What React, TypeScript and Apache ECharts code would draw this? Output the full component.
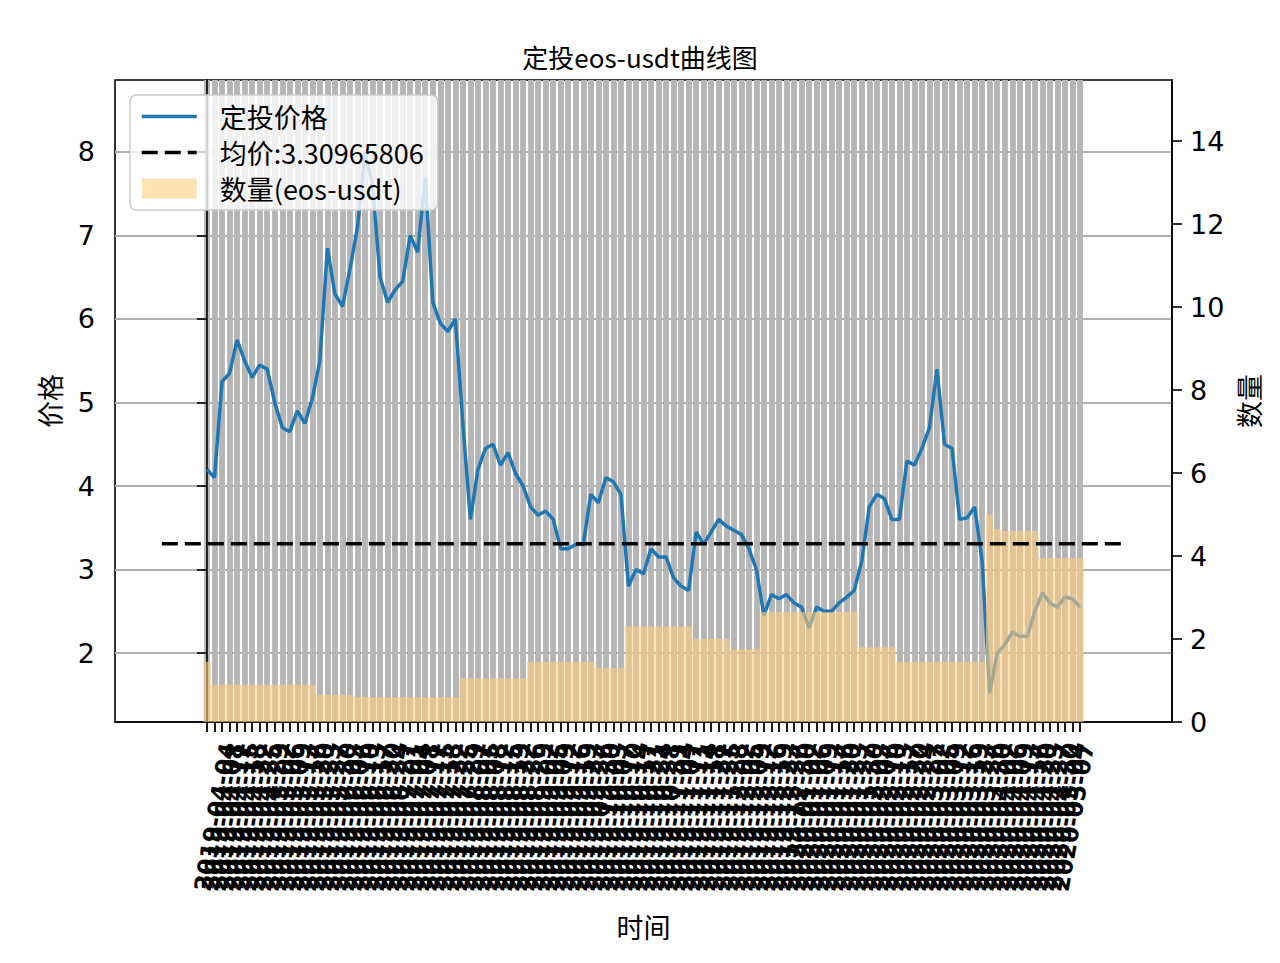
import React, { useEffect, useRef } from "react";
import * as echarts from "echarts";

const DATES = [
  "2019-04-01","2019-04-04","2019-04-08","2019-04-11","2019-04-15","2019-04-18","2019-04-22","2019-04-25","2019-04-29",
  "2019-05-02","2019-05-06","2019-05-09","2019-05-13","2019-05-16","2019-05-20","2019-05-23","2019-05-27","2019-05-30",
  "2019-06-03","2019-06-06","2019-06-10","2019-06-13","2019-06-17","2019-06-20","2019-06-24","2019-06-27",
  "2019-07-01","2019-07-04","2019-07-08","2019-07-11","2019-07-15","2019-07-18","2019-07-22","2019-07-25","2019-07-29",
  "2019-08-01","2019-08-05","2019-08-08","2019-08-12","2019-08-15","2019-08-19","2019-08-22","2019-08-26","2019-08-29",
  "2019-09-02","2019-09-05","2019-09-09","2019-09-12","2019-09-16","2019-09-19","2019-09-23","2019-09-26","2019-09-30",
  "2019-10-03","2019-10-07","2019-10-10","2019-10-14","2019-10-17","2019-10-21","2019-10-24","2019-10-28","2019-10-31",
  "2019-11-04","2019-11-07","2019-11-11","2019-11-14","2019-11-18","2019-11-21","2019-11-25","2019-11-28",
  "2019-12-02","2019-12-05","2019-12-09","2019-12-12","2019-12-16","2019-12-19","2019-12-23","2019-12-26","2019-12-30",
  "2020-01-02","2020-01-06","2020-01-09","2020-01-13","2020-01-16","2020-01-20","2020-01-23","2020-01-27","2020-01-30",
  "2020-02-03","2020-02-06","2020-02-10","2020-02-13","2020-02-17","2020-02-20","2020-02-24","2020-02-27",
  "2020-03-02","2020-03-05","2020-03-09","2020-03-12","2020-03-16","2020-03-19","2020-03-23","2020-03-26","2020-03-30",
  "2020-04-02","2020-04-06","2020-04-09","2020-04-13","2020-04-16","2020-04-20","2020-04-23","2020-04-27","2020-04-30",
  "2020-05-04","2020-05-07","2020-05-11"
];

const PRICE = [
  4.2, 4.1, 5.25, 5.35, 5.75, 5.5, 5.3, 5.45, 5.4, 5.0,
  4.7, 4.65, 4.9, 4.75, 5.05, 5.5, 6.85, 6.3, 6.15, 6.6,
  7.1, 8.0, 7.6, 6.5, 6.2, 6.35, 6.45, 7.0, 6.8, 7.7,
  6.2, 5.95, 5.85, 6.0, 4.75, 3.6, 4.2, 4.45, 4.5, 4.25,
  4.4, 4.15, 4.0, 3.75, 3.65, 3.7, 3.6, 3.25, 3.25, 3.3,
  3.3, 3.9, 3.8, 4.1, 4.05, 3.9, 2.8, 3.0, 2.95, 3.25,
  3.15, 3.15, 2.9, 2.8, 2.75, 3.45, 3.3, 3.45, 3.6, 3.52,
  3.47, 3.42, 3.25, 3.0, 2.45, 2.7, 2.65, 2.7, 2.6, 2.55,
  2.3, 2.55, 2.5, 2.5, 2.6, 2.67, 2.75, 3.1, 3.75, 3.9,
  3.85, 3.6, 3.6, 4.3, 4.25, 4.45, 4.7, 5.4, 4.5, 4.45,
  3.6, 3.62, 3.75, 3.1, 1.52, 2.0, 2.1, 2.25, 2.2, 2.2,
  2.5, 2.72, 2.6, 2.55, 2.67, 2.65, 2.55
];

const QTY = [
  1.45,
  0.9, 0.9, 0.9, 0.9, 0.9, 0.9, 0.9, 0.9, 0.9, 0.9, 0.9, 0.9, 0.9, 0.9,
  0.65, 0.65, 0.65, 0.65, 0.65,
  0.6, 0.6, 0.6, 0.6, 0.6, 0.6, 0.6, 0.6, 0.6, 0.6, 0.6, 0.6, 0.6, 0.6,
  1.05, 1.05, 1.05, 1.05, 1.05, 1.05, 1.05, 1.05, 1.05,
  1.45, 1.45, 1.45, 1.45, 1.45, 1.45, 1.45, 1.45, 1.45,
  1.3, 1.3, 1.3, 1.3,
  2.3, 2.3, 2.3, 2.3, 2.3, 2.3, 2.3, 2.3, 2.3,
  2.0, 2.0, 2.0, 2.0, 2.0,
  1.75, 1.75, 1.75, 1.75,
  2.65, 2.65, 2.65, 2.65, 2.65, 2.65, 2.65, 2.65, 2.65, 2.65, 2.65, 2.65, 2.65,
  1.8, 1.8, 1.8, 1.8, 1.8,
  1.45, 1.45, 1.45, 1.45, 1.45, 1.45, 1.45, 1.45, 1.45, 1.45, 1.45, 1.45,
  5.0, 4.65,
  4.6, 4.6, 4.6, 4.6, 4.6,
  3.95, 3.95, 3.95, 3.95, 3.95, 3.95
];

const MEAN_PRICE = 3.30965806;
const MEAN_X = [-6, DATES.length - 1 + 6];
const LEFT_TICKS = [2, 3, 4, 5, 6, 7, 8];
const RIGHT_TICKS = [0, 2, 4, 6, 8, 10, 12, 14];

const CJK = "Noto Sans CJK SC";
const NUM = "DejaVu Sans";

export default function App() {
  const ref = useRef<HTMLDivElement>(null);
  useEffect(() => {
    if (!ref.current) return;
    const chart = echarts.init(ref.current, null, { renderer: "svg" });
    const idx = DATES.map((_, i) => i);
    const pad = 12.224;
    const xMin = -pad;
    const xMax = DATES.length - 1 + pad;
    const option: any = {
      animation: false,
      backgroundColor: "#ffffff",
      title: {
        text: "定投eos-usdt曲线图",
        left: "center",
        top: 38,
        textStyle: { fontSize: 26, fontWeight: "normal", fontFamily: CJK, color: "#000" },
      },
      legend: {
        orient: "vertical",
        left: 130,
        top: 95,
        itemWidth: 55,
        itemHeight: 20,
        itemGap: 9,
        padding: [8, 14, 8, 10],
        backgroundColor: "rgba(255,255,255,0.8)",
        borderColor: "#cccccc",
        borderWidth: 1.5,
        borderRadius: 6,
        z: 10,
        textStyle: { fontSize: 27, fontFamily: CJK, color: "#000", padding: [0, 0, 0, 18] },
        data: [
          { name: "定投价格", itemStyle: { opacity: 0 }, lineStyle: { width: 3.5 } },
          { name: "均价:3.30965806", itemStyle: { opacity: 0 }, lineStyle: { width: 3.5 } },
          { name: "数量(eos-usdt)", icon: "rect" },
        ],
      },
      grid: [
        { left: 115, right: 108, top: 80, bottom: 241, show: true, borderColor: "#000", borderWidth: 1.6, backgroundColor: "transparent" },
        { left: 129, right: 94, top: 80, bottom: 241 },
      ],
      xAxis: [
        {
          type: "value",
          gridIndex: 0,
          min: xMin,
          max: xMax,
          name: "时间",
          nameLocation: "middle",
          nameGap: 191,
          nameTextStyle: { fontSize: 27, fontFamily: CJK, color: "#000" },
          axisLine: { show: true, lineStyle: { color: "#000", width: 1.6 } },
          axisTick: { show: true, customValues: idx, length: 10, lineStyle: { color: "#000", width: 1.8 } },
          axisLabel: { show: false, customValues: idx },
          splitLine: { show: true, lineStyle: { color: "#b5b5b5", width: 5.8 } },
        },
        {
          type: "value",
          gridIndex: 1,
          min: xMin,
          max: xMax,
          axisLine: { show: false },
          axisTick: { show: false, customValues: idx },
          splitLine: { show: false },
          axisLabel: {
            show: true,
            customValues: idx,
            rotate: 80,
            margin: 21,
            fontSize: 23.5,
            fontWeight: "bold",
            fontFamily: NUM,
            color: "#000",
            formatter: (v: number) => DATES[Math.round(v)] ?? "",
          },
        },
      ],
      yAxis: [
        {
          type: "value",
          gridIndex: 0,
          position: "left",
          min: 1.174,
          max: 8.862,
          name: "价格",
          nameLocation: "middle",
          nameGap: 52,
          nameTextStyle: { fontSize: 27, fontFamily: CJK, color: "#000" },
          axisLine: { show: true, lineStyle: { color: "#000", width: 1.6 } },
          axisTick: { show: true, customValues: LEFT_TICKS, length: 10, lineStyle: { color: "#000", width: 1.6 } },
          axisLabel: { customValues: LEFT_TICKS, margin: 20, fontSize: 27, fontFamily: NUM, color: "#000" },
          splitLine: { show: true, lineStyle: { color: "#b0b0b0", width: 2 } },
        },
        {
          type: "value",
          gridIndex: 0,
          position: "right",
          min: 0,
          max: 15.47,
          name: "数量",
          nameLocation: "middle",
          nameGap: 63,
          nameTextStyle: { fontSize: 27, fontFamily: CJK, color: "#000" },
          axisLine: { show: true, lineStyle: { color: "#000", width: 1.6 } },
          axisTick: { show: true, customValues: RIGHT_TICKS, length: 10, lineStyle: { color: "#000", width: 1.6 } },
          axisLabel: { customValues: RIGHT_TICKS, margin: 18, fontSize: 27, fontFamily: NUM, color: "#000" },
          splitLine: { show: false },
        },
        { type: "value", gridIndex: 1, show: false, min: 0, max: 1 },
      ],
      series: [
        {
          name: "定投价格",
          type: "line",
          xAxisIndex: 0,
          yAxisIndex: 0,
          data: PRICE.map((v, i) => [i, v]),
          symbol: "none",
          lineStyle: { color: "#1f77b4", width: 3.5 },
          itemStyle: { color: "#1f77b4" },
          z: 2,
        },
        {
          name: "数量(eos-usdt)",
          type: "bar",
          xAxisIndex: 0,
          yAxisIndex: 1,
          data: QTY.map((v, i) => [i, v]),
          barWidth: 7.55,
          itemStyle: { color: "rgba(255,205,130,0.6)" },
          z: 3,
        },
        {
          name: "均价:3.30965806",
          type: "line",
          xAxisIndex: 0,
          yAxisIndex: 0,
          data: MEAN_X.map((x) => [x, MEAN_PRICE]),
          symbol: "none",
          lineStyle: { color: "#000", width: 3.5, type: [16, 7] },
          itemStyle: { color: "#000" },
          z: 4,
        },
      ],
    };
    chart.setOption(option);
    return () => chart.dispose();
  }, []);
  return <div ref={ref} style={{ position: "fixed", left: 0, top: 0, width: 1280, height: 963 }} />;
}
